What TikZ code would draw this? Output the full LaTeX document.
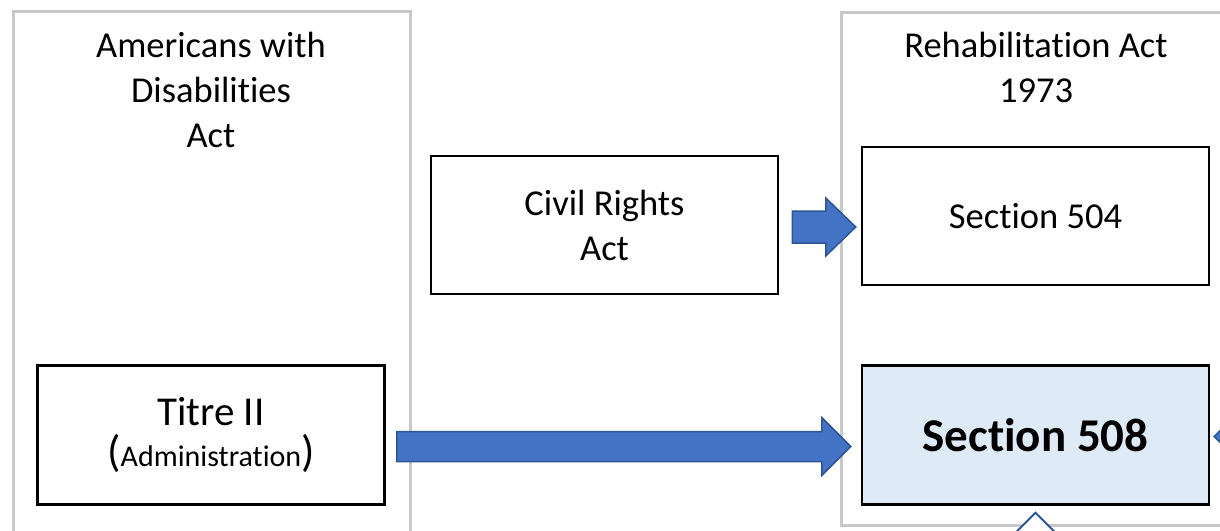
\documentclass[tikz,border=0pt]{standalone}
\usepackage{fontspec}
\setmainfont{Carlito}[Ligatures=NoCommon]
\usetikzlibrary{positioning,calc}
\definecolor{framegray}{HTML}{C8C8C8}
\definecolor{arrowblue}{HTML}{4472C4}
\definecolor{arrowedge}{HTML}{2F5597}
\definecolor{lightblue}{HTML}{DEEBF7}
\tikzset{%
  lawbox/.style = {rectangle,draw=framegray,line width=2.5pt,
        anchor=north west},
  lawtitle/.style = {align=center,inner sep=0pt,
        font=\fontsize{36.5}{45}\selectfont},
  act/.style = {rectangle,draw,line width=2.5pt,minimum width=347pt,
        minimum height=138pt,align=center,inner sep=0pt,
        font=\fontsize{36.5}{45}\selectfont},
  bluearrow/.style = {fill=arrowblue,draw=arrowedge,line width=1.5pt},
  hollowarrow/.style = {fill=white,draw=arrowedge,line width=2pt}
}
% block arrow: style, start, tip, shaft half width, head half width, head length
\newcommand{\blockarrow}[6]{%
  \coordinate (ba-h) at ($(#3)!#6!(#2)$);
  \draw[#1] ($(#2)!#4!90:(#3)$) -- ($(ba-h)!#4!90:(#3)$)
    -- ($(ba-h)!#5!90:(#3)$) -- (#3) -- ($(ba-h)!#5!-90:(#3)$)
    -- ($(ba-h)!#4!-90:(#3)$) -- ($(#2)!#4!-90:(#3)$) -- cycle;}

\begin{document}
\begin{tikzpicture}[x=1pt,y=-1pt]
  \useasboundingbox (0,0) rectangle (1220,530);
  \fill[white] (0,0) rectangle (1220,530);
  \clip (0,0) rectangle (1220,530);

  % the two laws
  \node[lawbox,minimum width=397pt,minimum height=600pt] (ada) at (12,10) {};
  \node[lawbox,minimum width=392pt,minimum height=513pt] (rehab) at (840,11) {};
  \node[lawtitle] (adatitle) at (211,90) {Americans with\\Disabilities\\Act};
  \node[lawtitle] (rehabtitle) at (1036,67) {Rehabilitation Act\\1973};

  \node[act] (civil) at (604.5,225) {Civil Rights\\Act};
  \node[act] (s504) at (1035.5,216) {Section 504};
  \node[act,fill=lightblue,minimum height=139pt,
        font=\fontsize{47}{56}\selectfont\bfseries] (s508) [below=78pt of s504] {Section 508};
  \node[act,minimum height=139pt,font=\fontsize{41}{41}\selectfont]
        (titre) [left=475pt of s508] {Titre II\\{\fontsize{44}{41}\selectfont(}{\fontsize{30}{41}\selectfont Administration}{\fontsize{44}{41}\selectfont)}};

  % arrows
  \coordinate (crstart) at ($(civil.east)+(13,2)$);
  \coordinate (crtip) at ($(crstart -| s504.west)+(-5,0)$);
  \blockarrow{bluearrow}{crstart}{crtip}{16pt}{29pt}{30pt}

  \coordinate (tstart) at ($(titre.east)+(11,11.5)$);
  \coordinate (ttip) at ($(tstart -| s508.west)+(-10,0)$);
  \blockarrow{bluearrow}{tstart}{ttip}{15pt}{29pt}{29pt}

  \coordinate (rtip) at ($(s508.east)+(4,1.5)$);
  \coordinate (rstart) at ($(rtip)+(110,0)$);
  \blockarrow{bluearrow}{rstart}{rtip}{15pt}{29pt}{29pt}

  \coordinate (btip) at ($(s508.south)+(0,7)$);
  \coordinate (bstart) at ($(btip)+(0,110)$);
  \blockarrow{hollowarrow}{bstart}{btip}{15pt}{29pt}{29pt}
\end{tikzpicture}
\end{document}
